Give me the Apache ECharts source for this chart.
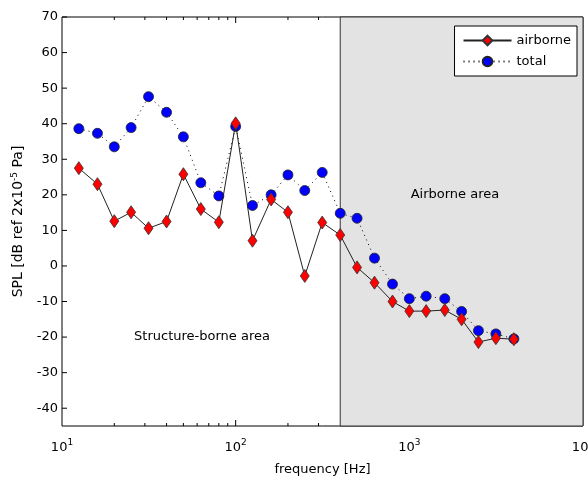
<!DOCTYPE html>
<html>
<head>
<meta charset="utf-8">
<script src="https://cdn.jsdelivr.net/npm/echarts@6/dist/echarts.min.js"></script>
<style>
html, body { margin: 0; padding: 0; background: #fff; }
#chart { width: 588px; height: 477px; }
</style>
</head>
<body>
<div id="chart"></div>
<script>
// 1/3 octave band centre frequencies
const freqs = [12.5, 16, 20, 25, 31.5, 40, 50, 63, 80, 100, 125, 160, 200, 250, 315, 400,
    500, 630, 800, 1000, 1250, 1600, 2000, 2500, 3150, 4000];
const airborne = [27.5, 23.0, 12.6, 15.1, 10.6, 12.5, 25.8, 16.0, 12.3, 40.1, 7.1, 18.7, 15.1, -2.8, 12.2, 8.7,
    -0.4, -4.7, -10.0, -12.7, -12.7, -12.4, -15.0, -21.4, -20.3, -20.6];
const total = [38.6, 37.3, 33.5, 38.9, 47.6, 43.2, 36.3, 23.4, 19.7, 39.2, 17.0, 20.0, 25.6, 21.2, 26.3, 14.8,
    13.4, 2.2, -5.1, -9.2, -8.5, -9.2, -12.8, -18.2, -19.1, -20.5];
const yTicks = [-40, -30, -20, -10, 0, 10, 20, 30, 40, 50, 60, 70];
const xMajor = [10, 100, 1000, 10000];
const xMinor = [20, 30, 40, 50, 60, 70, 80, 90, 200, 300, 400, 500, 600, 700, 800, 900,
    2000, 3000, 4000, 5000, 6000, 7000, 8000, 9000];
const airborneRange = [400, 10000];
const yMin = -45, yMax = 70;

const FONT = 'DejaVu Sans';
const chart = echarts.init(document.getElementById('chart'));

// inward ticks (MATLAB box style) drawn as thin rect symbols on the axes;
// the grey patch hides them on the airborne side, so only the white side gets them
const onWhite = (v) => v > xMajor[0] && v < airborneRange[0];
const tickSeries = (data, size, offset) => ({
    type: 'scatter',
    z: 1,
    silent: true,
    clip: false,
    symbol: 'rect',
    symbolSize: size,
    symbolOffset: offset,
    itemStyle: { color: '#000', opacity: 1 },
    emphasis: { disabled: true },
    data: data,
});
const ticks = [
    tickSeries(xMajor.filter(onWhite).map((v) => [v, yMin]), [1, 6], [0, -3]),
    tickSeries(xMajor.filter(onWhite).map((v) => [v, yMax]), [1, 6], [0, 3]),
    tickSeries(xMinor.filter(onWhite).map((v) => [v, yMin]), [1, 3], [0, -1.5]),
    tickSeries(xMinor.filter(onWhite).map((v) => [v, yMax]), [1, 3], [0, 1.5]),
    tickSeries(yTicks.map((v) => [xMajor[0], v]), [5, 1], [2.5, 0]),
];

chart.setOption({
    animation: false,
    backgroundColor: '#fff',
    grid: {
        left: 62, right: 5, top: 17, bottom: 51,
        outerBoundsMode: 'none',
        show: true, borderColor: '#000', borderWidth: 1,
    },
    legend: {
        orient: 'vertical',
        right: 11,
        top: 26,
        padding: [8, 6, 8, 8],
        itemGap: 8,
        itemWidth: 48,
        itemHeight: 12,
        backgroundColor: '#fff',
        borderColor: '#000',
        borderWidth: 1,
        borderRadius: 0,
        textStyle: { color: '#000', fontFamily: FONT, fontSize: 13 },
        data: ['airborne', 'total'],
    },
    xAxis: {
        type: 'log',
        logBase: 10,
        min: xMajor[0],
        max: xMajor[xMajor.length - 1],
        axisLine: { show: false, onZero: false },
        axisTick: { show: false },
        splitLine: { show: false },
        axisLabel: {
            customValues: xMajor,
            margin: 12,
            color: '#000',
            fontFamily: FONT,
            fontSize: 13,
            formatter: (v) => '10{sup|' + Math.round(Math.log10(v)) + '}',
            rich: { sup: { fontSize: 9, verticalAlign: 'top', padding: [0, 0, 10, 0], fontFamily: FONT, color: '#000' } },
        },
        name: 'frequency [Hz]',
        nameLocation: 'middle',
        nameGap: 37,
        nameTextStyle: { color: '#000', fontFamily: FONT, fontSize: 13 },
    },
    yAxis: {
        type: 'value',
        min: yMin,
        max: yMax,
        axisLine: { show: false, onZero: false },
        axisTick: { show: false },
        splitLine: { show: false },
        axisLabel: { customValues: yTicks, color: '#000', fontFamily: FONT, fontSize: 13, margin: 4 },
        name: 'SPL [dB ref 2x10{sup|-5} Pa]',
        nameLocation: 'middle',
        nameGap: 35,
        nameTextStyle: {
            color: '#000', fontFamily: FONT, fontSize: 14,
            rich: { sup: { fontSize: 9, verticalAlign: 'top', padding: [0, 0, 8, 0], fontFamily: FONT, color: '#000' } },
        },
    },
    series: ticks.concat([
        {
            name: 'shade',
            type: 'line',
            data: [],
            z: 2,
            markArea: {
                silent: true,
                itemStyle: { color: '#e3e3e3', borderColor: '#333', borderWidth: 1 },
                data: [[{ xAxis: airborneRange[0] }, { xAxis: airborneRange[1] }]],
            },
        },
        {
            name: 'total',
            type: 'line',
            z: 3,
            data: freqs.map((f, i) => [f, total[i]]),
            symbol: 'circle',
            symbolSize: 10,
            lineStyle: { color: '#000', width: 1, type: [1, 4] },
            itemStyle: { color: '#0000ff', borderColor: '#222', borderWidth: 0.8 },
        },
        {
            name: 'airborne',
            type: 'line',
            z: 4,
            data: freqs.map((f, i) => [f, airborne[i]]),
            symbol: 'diamond',
            symbolSize: [9, 13],
            lineStyle: { color: '#222', width: 1 },
            itemStyle: { color: '#ff0000', borderColor: '#333', borderWidth: 0.8 },
        },
    ]),
});

// region labels, placed in data coordinates
const notes = [
    { text: 'Airborne area', at: [1830, 20] },
    { text: 'Structure-borne area', at: [64, -20] },
];
chart.setOption({
    graphic: notes.map((n) => {
        const p = chart.convertToPixel({ xAxisIndex: 0, yAxisIndex: 0 }, n.at);
        return {
            type: 'text',
            x: p[0],
            y: p[1],
            z: 10,
            style: { text: n.text, fill: '#000', font: '13px "' + FONT + '"', align: 'center', verticalAlign: 'middle' },
        };
    }),
});
</script>
</body>
</html>
